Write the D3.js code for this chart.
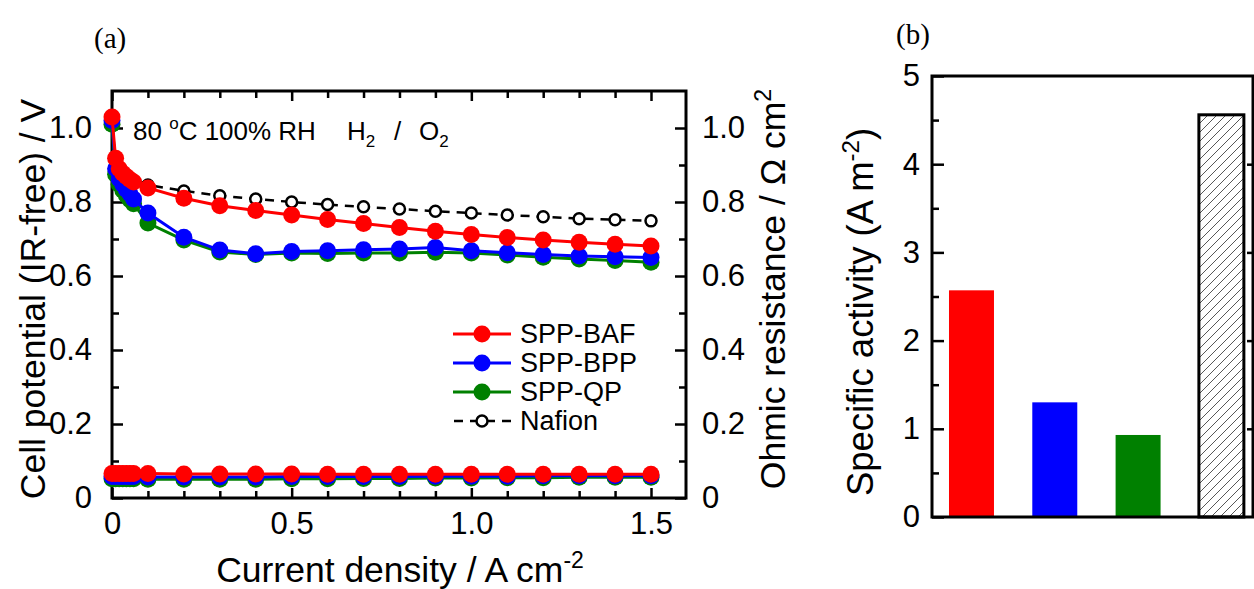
<!DOCTYPE html>
<html>
<head>
<meta charset="utf-8">
<script src="https://cdnjs.cloudflare.com/ajax/libs/d3/7.8.5/d3.min.js"></script>
<style>
  body { margin: 0; background: #fff; }
  svg { display: block; font-family: Arial, "Liberation Sans", sans-serif; }
</style>
</head>
<body>
<div id="chart"></div>
<script>
// current density points (A cm-2)
const currentDensity = [0, 0.01, 0.02, 0.03, 0.04, 0.05, 0.06, 0.1, 0.2, 0.3, 0.4, 0.5,
    0.6, 0.7, 0.8, 0.9, 1.0, 1.1, 1.2, 1.3, 1.4, 1.5];

// IR-free cell potential (V)
const potBAF = [1.03, 0.918, 0.89, 0.878, 0.869, 0.861, 0.854, 0.838, 0.81, 0.79, 0.777, 0.765,
    0.753, 0.742, 0.731, 0.721, 0.712, 0.704, 0.697, 0.691, 0.686, 0.681];
const potBPP = [1.02, 0.89, 0.862, 0.848, 0.834, 0.822, 0.808, 0.77, 0.705, 0.67, 0.66, 0.666,
    0.668, 0.671, 0.673, 0.677, 0.668, 0.663, 0.658, 0.654, 0.652, 0.65];
const potQP = [1.01, 0.875, 0.848, 0.832, 0.818, 0.806, 0.795, 0.743, 0.697, 0.665, 0.658, 0.662,
    0.661, 0.662, 0.662, 0.664, 0.662, 0.657, 0.651, 0.646, 0.642, 0.637];
const potNafion = [1.0, 0.915, 0.898, 0.888, 0.879, 0.871, 0.864, 0.846, 0.83, 0.817, 0.808, 0.8,
    0.793, 0.787, 0.781, 0.775, 0.77, 0.765, 0.76, 0.755, 0.752, 0.749];

// ohmic resistance (Ohm cm2)
const resBAF = [0.066, 0.066, 0.066, 0.066, 0.066, 0.066, 0.066, 0.066, 0.065, 0.065, 0.065, 0.065,
    0.064, 0.064, 0.064, 0.064, 0.064, 0.064, 0.064, 0.064, 0.064, 0.064];
const resBPP = [0.058, 0.058, 0.058, 0.058, 0.058, 0.058, 0.058, 0.057, 0.057, 0.057, 0.057, 0.058,
    0.058, 0.058, 0.058, 0.059, 0.059, 0.059, 0.06, 0.06, 0.06, 0.06];
const resQP = [0.052, 0.052, 0.052, 0.052, 0.052, 0.052, 0.052, 0.051, 0.051, 0.051, 0.051, 0.052,
    0.052, 0.053, 0.053, 0.054, 0.054, 0.055, 0.055, 0.056, 0.056, 0.056];

// panel (b)
const membranes = ['SPP-BAF', 'SPP-BPP', 'SPP-QP', 'Nafion'];
const activity = [2.57, 1.30, 0.93, 4.56];

const colors = { 'SPP-BAF': '#ff0000', 'SPP-BPP': '#0000ff', 'SPP-QP': '#008000', 'Nafion': '#000' };

const width = 1254, height = 589;
const svg = d3.select('#chart').append('svg')
    .attr('width', width)
    .attr('height', height);

const defs = svg.append('defs');
defs.append('pattern')
    .attr('id', 'hatch')
    .attr('patternUnits', 'userSpaceOnUse')
    .attr('width', 9).attr('height', 9)
    .append('path')
    .attr('d', 'M-2,2 l4,-4 M0,9 l9,-9 M7,11 l4,-4')
    .attr('stroke', '#444')
    .attr('stroke-width', 0.9);

// ---------- panel (a) ----------
const box = { left: 112, right: 686, top: 91, bottom: 498 };

const x = d3.scaleLinear()
    .domain([0, 1.5])
    .range([box.left, 651]);

const y = d3.scaleLinear()
    .domain([0, 1.1])
    .range([box.bottom, box.top]);

const a = svg.append('g');

const majorX = [0, 0.5, 1.0, 1.5];
const minorX = [0.1, 0.2, 0.3, 0.4, 0.6, 0.7, 0.8, 0.9, 1.1, 1.2, 1.3, 1.4];
const majorY = [0, 0.2, 0.4, 0.6, 0.8, 1.0];
const minorY = [0.1, 0.3, 0.5, 0.7, 0.9];

const tickStyle = g => g.selectAll('.tick line').attr('stroke', '#000').attr('stroke-width', 2.5);
const fmt = d => d === 0 ? '0' : d3.format('.1f')(d);

// bottom axis
a.append('g')
    .attr('transform', `translate(0, ${box.bottom})`)
    .call(d3.axisBottom(x).tickValues(majorX).tickSizeInner(-10).tickSizeOuter(0).tickPadding(14).tickFormat(fmt))
    .call(tickStyle)
    .call(g => g.select('.domain').remove())
    .call(g => g.selectAll('text').attr('font-size', 31).attr('fill', '#000'));
a.append('g')
    .attr('transform', `translate(0, ${box.bottom})`)
    .call(d3.axisBottom(x).tickValues(minorX).tickSizeInner(-7).tickSizeOuter(0).tickFormat(''))
    .call(tickStyle)
    .call(g => g.select('.domain').remove());

// top axis
a.append('g')
    .attr('transform', `translate(0, ${box.top})`)
    .call(d3.axisTop(x).tickValues(majorX).tickSizeInner(-10).tickSizeOuter(0).tickFormat(''))
    .call(tickStyle)
    .call(g => g.select('.domain').remove());
a.append('g')
    .attr('transform', `translate(0, ${box.top})`)
    .call(d3.axisTop(x).tickValues(minorX).tickSizeInner(-7).tickSizeOuter(0).tickFormat(''))
    .call(tickStyle)
    .call(g => g.select('.domain').remove());

// left axis
a.append('g')
    .attr('transform', `translate(${box.left}, 0)`)
    .call(d3.axisLeft(y).tickValues(majorY).tickSizeInner(-11).tickSizeOuter(0).tickPadding(20).tickFormat(fmt))
    .call(tickStyle)
    .call(g => g.select('.domain').remove())
    .call(g => g.selectAll('text').attr('font-size', 31).attr('fill', '#000'));
a.append('g')
    .attr('transform', `translate(${box.left}, 0)`)
    .call(d3.axisLeft(y).tickValues(minorY).tickSizeInner(-7).tickSizeOuter(0).tickFormat(''))
    .call(tickStyle)
    .call(g => g.select('.domain').remove());

// right axis
a.append('g')
    .attr('transform', `translate(${box.right}, 0)`)
    .call(d3.axisRight(y).tickValues(majorY).tickSizeInner(-11).tickSizeOuter(0).tickPadding(16).tickFormat(fmt))
    .call(tickStyle)
    .call(g => g.select('.domain').remove())
    .call(g => g.selectAll('text').attr('font-size', 31).attr('fill', '#000'));
a.append('g')
    .attr('transform', `translate(${box.right}, 0)`)
    .call(d3.axisRight(y).tickValues(minorY).tickSizeInner(-7).tickSizeOuter(0).tickFormat(''))
    .call(tickStyle)
    .call(g => g.select('.domain').remove());

// frame
a.append('rect')
    .attr('x', box.left).attr('y', box.top)
    .attr('width', box.right - box.left).attr('height', box.bottom - box.top)
    .attr('fill', 'none').attr('stroke', '#000').attr('stroke-width', 3);

// curves
const line = d3.line()
    .x(d => x(d[0]))
    .y(d => y(d[1]));

const series = [
    { name: 'Nafion', vals: potNafion, dashed: true },
    { name: 'SPP-QP', vals: potQP },
    { name: 'SPP-BPP', vals: potBPP },
    { name: 'SPP-BAF', vals: potBAF },
    { name: 'SPP-QP', vals: resQP },
    { name: 'SPP-BPP', vals: resBPP },
    { name: 'SPP-BAF', vals: resBAF }
];

series.forEach(s => {
    const pts = currentDensity.map((c, i) => [c, s.vals[i]]);
    const g = a.append('g');
    g.append('path')
        .datum(pts)
        .attr('d', line)
        .attr('fill', 'none')
        .attr('stroke', colors[s.name])
        .attr('stroke-width', s.dashed ? 2.5 : 3)
        .attr('stroke-dasharray', s.dashed ? '9,7' : null);
    g.selectAll('circle')
        .data(s.dashed ? pts.filter(p => p[0] >= 0.1) : pts)
        .join('circle')
        .attr('cx', d => x(d[0]))
        .attr('cy', d => y(d[1]))
        .attr('r', s.dashed ? 5.5 : 8.5)
        .attr('fill', s.dashed ? '#fff' : colors[s.name])
        .attr('stroke', s.dashed ? '#000' : 'none')
        .attr('stroke-width', 2.5);
});

// annotation
const note = a.append('text')
    .attr('x', 133).attr('y', 140)
    .attr('font-size', 26);
note.append('tspan').text('80 ');
note.append('tspan').attr('font-size', 17).attr('dy', -11).text('o');
note.append('tspan').attr('dy', 11).text('C 100% RH');

const gas = a.append('g').attr('font-size', 26);
const h2 = gas.append('text').attr('x', 347).attr('y', 140);
h2.append('tspan').text('H');
h2.append('tspan').attr('font-size', 17).attr('dy', 7).text('2');
gas.append('text').attr('x', 394).attr('y', 140).text('/');
const o2 = gas.append('text').attr('x', 419).attr('y', 140);
o2.append('tspan').text('O');
o2.append('tspan').attr('font-size', 17).attr('dy', 7).text('2');

// legend
const legendNames = ['SPP-BAF', 'SPP-BPP', 'SPP-QP', 'Nafion'];
const legend = a.append('g');
legendNames.forEach((n, i) => {
    const ly = 334 + i * 29;
    const dashed = n === 'Nafion';
    legend.append('line')
        .attr('x1', 453).attr('x2', 511)
        .attr('y1', ly).attr('y2', ly)
        .attr('stroke', colors[n])
        .attr('stroke-width', dashed ? 2.5 : 3)
        .attr('stroke-dasharray', dashed ? '9,7' : null)
        .attr('stroke-dashoffset', dashed ? -1 : null);
    legend.append('circle')
        .attr('cx', 482).attr('cy', ly)
        .attr('r', dashed ? 5.5 : 8.5)
        .attr('fill', dashed ? '#fff' : colors[n])
        .attr('stroke', dashed ? '#000' : 'none')
        .attr('stroke-width', 2.5);
    legend.append('text')
        .attr('x', 520).attr('y', ly + 9)
        .attr('font-size', 27)
        .text(n);
});

// axis titles
a.append('text')
    .attr('transform', 'translate(45, 299) rotate(-90)')
    .attr('text-anchor', 'middle')
    .attr('font-size', 35.5)
    .text('Cell potential (IR-free) / V');

const rt = a.append('text')
    .attr('transform', 'translate(785, 289) rotate(-90)')
    .attr('text-anchor', 'middle')
    .attr('font-size', 35.5);
rt.append('tspan').text('Ohmic resistance / \u03a9 cm');
rt.append('tspan').attr('font-size', 23).attr('dy', -14).text('2');

const xt = a.append('text')
    .attr('x', 400).attr('y', 582)
    .attr('text-anchor', 'middle')
    .attr('font-size', 35.5);
xt.append('tspan').text('Current density / A cm');
xt.append('tspan').attr('font-size', 23).attr('dy', -14).text('-2');

a.append('text')
    .attr('x', 94).attr('y', 48)
    .attr('font-family', '"Liberation Serif", "DejaVu Serif", serif')
    .attr('font-size', 29)
    .text('(a)');

// ---------- panel (b) ----------
const boxB = { left: 932, right: 1253, top: 76, bottom: 517 };

const xb = d3.scaleBand()
    .domain(membranes)
    .range([boxB.left, boxB.left + 83.3 * 3.948])
    .paddingInner(0.46)
    .paddingOuter(0.204);

const yb = d3.scaleLinear()
    .domain([0, 5])
    .range([boxB.bottom, boxB.top]);

const b = svg.append('g');

b.append('g')
    .attr('transform', `translate(${boxB.left}, 0)`)
    .call(d3.axisLeft(yb).tickValues([0, 1, 2, 3, 4, 5]).tickSizeInner(-12).tickSizeOuter(0).tickPadding(12)
        .tickFormat(d3.format('d')))
    .call(tickStyle)
    .call(g => g.select('.domain').remove())
    .call(g => g.selectAll('text').attr('font-size', 31).attr('fill', '#000'));
b.append('g')
    .attr('transform', `translate(${boxB.left}, 0)`)
    .call(d3.axisLeft(yb).tickValues([0.5, 1.5, 2.5, 3.5, 4.5]).tickSizeInner(-7).tickSizeOuter(0).tickFormat(''))
    .call(tickStyle)
    .call(g => g.select('.domain').remove());
b.append('g')
    .attr('transform', `translate(${boxB.right}, 0)`)
    .call(d3.axisRight(yb).tickValues([1, 2, 3, 4]).tickSizeInner(-6).tickSizeOuter(0).tickFormat(''))
    .call(tickStyle)
    .call(g => g.select('.domain').remove());

b.selectAll('rect.bar')
    .data(membranes)
    .join('rect')
    .attr('class', 'bar')
    .attr('x', d => xb(d))
    .attr('y', (d, i) => yb(activity[i]))
    .attr('width', xb.bandwidth())
    .attr('height', (d, i) => yb(0) - yb(activity[i]))
    .attr('fill', d => d === 'Nafion' ? 'url(#hatch)' : colors[d])
    .attr('stroke', d => d === 'Nafion' ? '#000' : 'none')
    .attr('stroke-width', 3);

b.append('rect')
    .attr('x', boxB.left).attr('y', boxB.top)
    .attr('width', boxB.right - boxB.left).attr('height', boxB.bottom - boxB.top)
    .attr('fill', 'none').attr('stroke', '#000').attr('stroke-width', 3);

const bt = b.append('text')
    .attr('transform', 'translate(873, 312) rotate(-90)')
    .attr('text-anchor', 'middle')
    .attr('font-size', 36.5);
bt.append('tspan').text('Specific activity (A m');
bt.append('tspan').attr('font-size', 24).attr('dy', -14).text('-2');
bt.append('tspan').attr('dy', 14).text(')');

b.append('text')
    .attr('x', 896).attr('y', 44)
    .attr('font-family', '"Liberation Serif", "DejaVu Serif", serif')
    .attr('font-size', 29)
    .text('(b)');
</script>
</body>
</html>
